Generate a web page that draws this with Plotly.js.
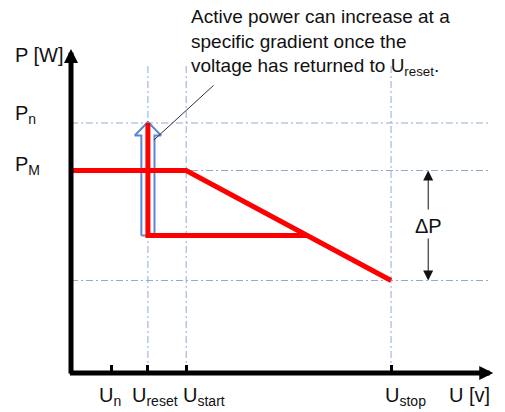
<!DOCTYPE html>
<html>
<head>
<meta charset="utf-8">
<script src="https://cdn.plot.ly/plotly-3.0.1.min.js"></script>
<style>html,body{margin:0;padding:0;background:#fff;}#chart{width:505px;height:412px;}</style>
</head>
<body>
<div id="chart"></div>
<script>
// Voltage levels (arbitrary units along the U axis)
const U_NAMES = ['U<sub>n</sub>', 'U<sub>reset</sub>', 'U<sub>start</sub>', 'U<sub>stop</sub>'];
const U_VALUES = [1.07, 2.05, 3.07, 8.53];
const U_LABEL_SHIFT = [-14, -18, -5, -8];
// Power levels (arbitrary units along the P axis)
const P_NAMES = ['P<sub>n</sub>', 'P<sub>M</sub>'];
const P_N = 100;
const P_M = 81;
const P_STOP = 37;
const P_LOW = 55;
const X_MAX = 11.3;
const Y_MAX = 130;
const GRID_END_X = 11.17;
const GRID_END_Y = 123.2;
const NOTE = 'Active power can increase at a<br>specific gradient once the<br>voltage has returned to U<sub>reset</sub>.';

const U_N = U_VALUES[0], U_RESET = U_VALUES[1], U_START = U_VALUES[2], U_STOP = U_VALUES[3];
// where the lower horizontal meets the falling slope
const xJoin = U_START + (P_M - P_LOW) / (P_M - P_STOP) * (U_STOP - U_START);

const FONT = 'Liberation Sans, Arial, sans-serif';
const GRID = {color: '#8eaadb', width: 1, dash: '7px,3px,2px,3px'};

const traces = [];
// horizontal grid lines
[P_N, P_M, P_STOP].forEach(p => traces.push({
  x: [0, GRID_END_X], y: [p, p], mode: 'lines', line: GRID, hoverinfo: 'skip'
}));
// vertical grid lines
[U_RESET, U_START, U_STOP].forEach(u => traces.push({
  x: [u, u], y: [0, GRID_END_Y], mode: 'lines', line: GRID, hoverinfo: 'skip'
}));
// hollow blue arrow
const bw = 0.175, hw = 0.35, hl = 5;
traces.push({
  x: [U_RESET - bw, U_RESET - bw, U_RESET - hw, U_RESET, U_RESET + hw, U_RESET + bw, U_RESET + bw, U_RESET - bw],
  y: [P_LOW, P_N - hl, P_N - hl, P_N + 0.4, P_N - hl, P_N - hl, P_LOW, P_LOW],
  mode: 'lines', fill: 'toself', fillcolor: 'rgba(255,255,255,0.6)',
  line: {color: '#5b87d4', width: 2}, hoverinfo: 'skip'
});
// red characteristic
traces.push({
  x: [0, U_START, U_STOP], y: [P_M, P_M, P_STOP], mode: 'lines',
  line: {color: '#ff0000', width: 5}, hoverinfo: 'skip'
});
traces.push({
  x: [U_RESET, U_RESET, xJoin], y: [P_N, P_LOW, P_LOW], mode: 'lines',
  line: {color: '#ff0000', width: 5}, hoverinfo: 'skip'
});

const ann = [];
// axes with arrowheads
ann.push({x: 0, y: 129.6, ax: 0, ay: -0.8, xref: 'x', yref: 'y', axref: 'x', ayref: 'y',
  text: '', showarrow: true, arrowhead: 2, arrowsize: 0.56, arrowwidth: 5, arrowcolor: '#000'});
ann.push({x: 11.253, y: 0, ax: -0.07, ay: 0, xref: 'x', yref: 'y', axref: 'x', ayref: 'y',
  text: '', showarrow: true, arrowhead: 2, arrowsize: 0.56, arrowwidth: 5, arrowcolor: '#000'});
// delta P arrows
const DPX = 9.52;
ann.push({x: DPX, y: P_M, ax: DPX, ay: 64.8, xref: 'x', yref: 'y', axref: 'x', ayref: 'y',
  text: '', showarrow: true, arrowhead: 2, arrowsize: 2, arrowwidth: 1, arrowcolor: '#111'});
ann.push({x: DPX, y: P_STOP, ax: DPX, ay: 54.4, xref: 'x', yref: 'y', axref: 'x', ayref: 'y',
  text: '', showarrow: true, arrowhead: 2, arrowsize: 2, arrowwidth: 1, arrowcolor: '#111'});
ann.push({x: DPX, y: (P_M + P_STOP) / 2, xref: 'x', yref: 'y', text: '\u0394P', showarrow: false,
  xanchor: 'center', yanchor: 'middle', yshift: 0, font: {family: FONT, size: 20, color: '#111'}});
// pointer line
ann.push({x: 2.21, y: 93.2, ax: 3.84, ay: 115.6, xref: 'x', yref: 'y', axref: 'x', ayref: 'y',
  text: '', showarrow: true, arrowhead: 0, arrowwidth: 1, arrowcolor: '#333'});
// note text
ann.push({x: 3.227, y: 1.142, xref: 'x', yref: 'paper', text: NOTE, showarrow: false, align: 'left',
  xanchor: 'left', yanchor: 'top', xshift: -3, yshift: -2, font: {family: FONT, size: 19, color: '#111'}});
// y labels
ann.push({x: -0.137, y: 127.2, xref: 'paper', yref: 'y', text: 'P [W]', showarrow: false,
  xanchor: 'left', yanchor: 'middle', font: {family: FONT, size: 20, color: '#111'}});
ann.push({x: -0.137, y: P_N, yshift: 9, xref: 'paper', yref: 'y', text: P_NAMES[0], showarrow: false,
  xanchor: 'left', yanchor: 'middle', font: {family: FONT, size: 20, color: '#111'}});
ann.push({x: -0.137, y: P_M, yshift: 5, xref: 'paper', yref: 'y', text: P_NAMES[1], showarrow: false,
  xanchor: 'left', yanchor: 'middle', font: {family: FONT, size: 20, color: '#111'}});
// x labels
U_VALUES.forEach((u, i) => ann.push({x: u, y: 0, xref: 'x', yref: 'paper', text: U_NAMES[i],
  showarrow: false, xanchor: 'left', yanchor: 'top', xshift: U_LABEL_SHIFT[i], yshift: -9,
  font: {family: FONT, size: 20, color: '#111'}}));
ann.push({x: 1.0, y: 0, xref: 'paper', yref: 'paper', text: 'U [v]', showarrow: false,
  xanchor: 'right', yanchor: 'top', yshift: -9, xshift: -3, font: {family: FONT, size: 20, color: '#111'}});

const layout = {
  width: 505, height: 412,
  margin: {l: 71, r: 10.25, t: 48, b: 39, pad: 0},
  paper_bgcolor: '#fff', plot_bgcolor: '#fff',
  showlegend: false,
  xaxis: {range: [0, X_MAX], showgrid: false, zeroline: false, showline: false,
    ticks: 'inside', tickvals: U_VALUES, ticklen: 8, tickwidth: 3, tickcolor: '#000',
    showticklabels: false, fixedrange: true},
  yaxis: {range: [0, Y_MAX], showgrid: false, zeroline: false, showline: false,
    ticks: '', showticklabels: false, fixedrange: true},
  annotations: ann
};
Plotly.newPlot('chart', traces, layout, {displayModeBar: false, staticPlot: true});
</script>
</body>
</html>
